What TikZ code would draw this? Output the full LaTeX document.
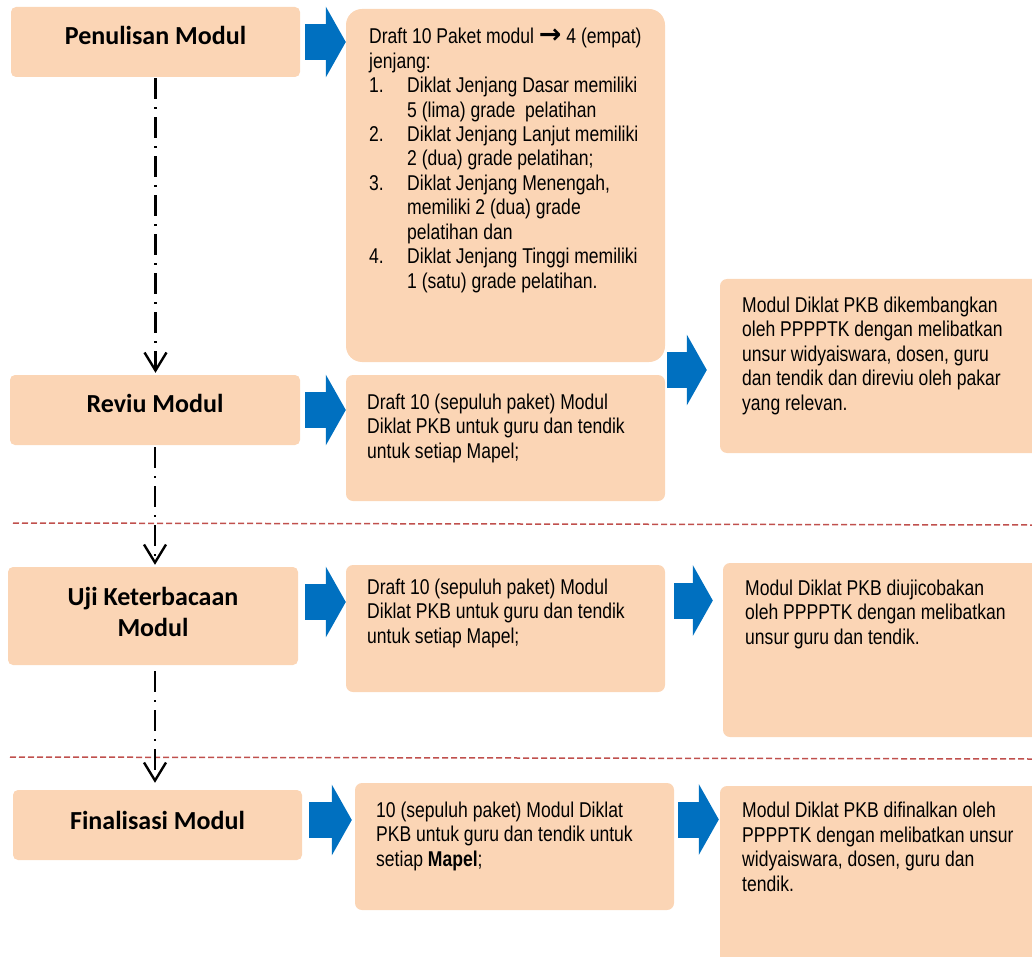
\documentclass[tikz,border=0pt]{standalone}
\usepackage{fontspec}
\usetikzlibrary{arrows.meta,fit}
\newfontfamily\bodyfont[FakeStretch=0.82]{Liberation Sans}
\newfontfamily\symfont{DejaVu Sans}
\newfontfamily\labelfont{Carlito}
\definecolor{Peach}{RGB}{251,213,181}
\definecolor{Ocean}{RGB}{0,112,192}
\definecolor{Brick}{RGB}{192,80,77}
\newcommand{\itemno}[1]{\makebox[38pt][l]{#1}}
\newcommand{\itemgap}{\hspace*{38pt}}
\tikzset{
  stage/.style={rectangle,rounded corners=5pt,fill=Peach,inner sep=0pt},
  panel/.style={stage,rounded corners=7pt},
  bigpanel/.style={stage,rounded corners=16pt},
  stagelbl/.style={align=center,inner sep=0pt,
                   font=\labelfont\bfseries\fontsize{26pt}{31pt}\selectfont},
  % placed at the baseline of the last line
  bodytxt/.style={anchor=base west,align=left,inner sep=0pt,
                  font=\bodyfont\fontsize{21.4pt}{24.4pt}\selectfont},
  blockarr/.style={-{Triangle[length=20pt,width=70pt]},line width=36pt,Ocean},
  flow/.style={-{Straight Barb[length=18pt,width=22pt]},line width=2.4pt,
               dash pattern=on 21pt off 8pt on 2pt off 8pt},
  sepline/.style={Brick,line width=1.5pt,dash pattern=on 6pt off 3pt},
}
\begin{document}
\begin{tikzpicture}[x=1pt,y=-1pt]
  \useasboundingbox (0,0) rectangle (1032,957);
  % stages on the left
  \node[stage, fit={(11,7) (300,77)}] (pen) {};
  \node[stage, fit={(10,375) (300,445)}] (rev) {};
  \node[stage, fit={(8,567) (298,665)}] (uji) {};
  \node[stage, fit={(13,790) (302,860)}] (fin) {};
  \node[stagelbl] (penlbl) at ([yshift=7pt]pen.center) {Penulisan Modul};
  \node[stagelbl] (revlbl) at ([yshift=7pt]rev.center) {Reviu Modul};
  \node[stagelbl] (ujilbl) at ([yshift=4pt]uji.center) {Uji Keterbacaan\\Modul};
  \node[stagelbl] (finlbl) at ([yshift=5pt]fin.center) {Finalisasi Modul};

  % outputs
  \node[bigpanel, fit={(346,9) (665,362)}] (mid1) {};
  \node[panel, fit={(346,375) (665,501)}] (mid2) {};
  \node[panel, fit={(346,565) (665,692)}] (mid3) {};
  \node[panel, fit={(355,783) (674,910)}] (mid4) {};
  \node[bodytxt] (mid1txt) at (369,288) {Draft 10 Paket modul {\symfont\bfseries\fontsize{27pt}{24pt}\selectfont →} 4 (empat)\\
    jenjang:\\
    \itemno{1.}Diklat Jenjang Dasar memiliki\\
    \itemgap 5 (lima) grade\ \ pelatihan\\
    \itemno{2.}Diklat Jenjang Lanjut memiliki\\
    \itemgap 2 (dua) grade pelatihan;\\
    \itemno{3.}Diklat Jenjang Menengah,\\
    \itemgap memiliki 2 (dua) grade\\
    \itemgap pelatihan dan\\
    \itemno{4.}Diklat Jenjang Tinggi memiliki\\
    \itemgap 1 (satu) grade pelatihan.};
  \node[bodytxt] (mid2txt) at (367,458) {Draft 10 (sepuluh paket) Modul\\
    Diklat PKB untuk guru dan tendik\\ untuk setiap Mapel;};
  \node[bodytxt] (mid3txt) at (367,643) {Draft 10 (sepuluh paket) Modul\\
    Diklat PKB untuk guru dan tendik\\ untuk setiap Mapel;};
  \node[bodytxt] (mid4txt) at (376,866) {10 (sepuluh paket) Modul Diklat\\
    PKB untuk guru dan tendik untuk\\ setiap \textbf{Mapel};};

  % notes on the right
  \node[panel, fit={(720,279) (1045,453)}] (r1) {};
  \node[panel, fit={(723,563) (1045,737)}] (r2) {};
  \node[panel, fit={(720,786) (1045,975)}] (r3) {};
  \node[bodytxt] (r1txt) at (742,410) {Modul Diklat PKB dikembangkan\\
    oleh PPPPTK dengan melibatkan\\ unsur widyaiswara, dosen, guru\\
    dan tendik dan direviu oleh pakar\\ yang relevan.};
  \node[bodytxt] (r2txt) at (745,644) {Modul Diklat PKB diujicobakan\\
    oleh PPPPTK dengan melibatkan\\ unsur guru dan tendik.};
  \node[bodytxt] (r3txt) at (742,891) {Modul Diklat PKB difinalkan oleh\\
    PPPPTK dengan melibatkan unsur\\ widyaiswara, dosen, guru dan\\ tendik.};

  % phase separators
  \draw[sepline] (13,523) -- (1032,525);
  \draw[sepline] (10,757) -- (1032,759);

  % flow between stages
  \draw[flow] ([yshift=-1pt]pen.south) -- ([yshift=2pt]pen.south |- rev.north);
  \draw[flow] ([yshift=-2pt]rev.south) -- ([yshift=2pt]rev.south |- uji.north);
  \draw[flow] ([xshift=2pt,yshift=-6pt]uji.south) -- ([xshift=2pt,yshift=7pt]uji.south |- fin.north);

  % block arrows
  \draw[blockarr] ([xshift=5pt]pen.east) -- (pen.east -| mid1.west);
  \draw[blockarr] ([xshift=5pt]rev.east) -- (rev.east -| mid2.west);
  \draw[blockarr] ([xshift=7pt,yshift=14pt]uji.east) -- ([yshift=14pt]uji.east -| mid3.west);
  \draw[blockarr] ([xshift=7pt,yshift=5pt]fin.east) -- ([xshift=-3pt,yshift=5pt]fin.east -| mid4.west);
  \draw[blockarr] ([xshift=-53pt,yshift=-4pt]r1.west) -- ([xshift=-13pt,yshift=-4pt]r1.west);
  \draw[blockarr] ([xshift=9pt,yshift=28pt]mid3.east) -- ([xshift=-10pt,yshift=28pt]mid3.east -| r2.west);
  \draw[blockarr] ([xshift=4pt,yshift=27pt]mid4.east) -- ([xshift=-1pt,yshift=27pt]mid4.east -| r3.west);
\end{tikzpicture}
\end{document}
